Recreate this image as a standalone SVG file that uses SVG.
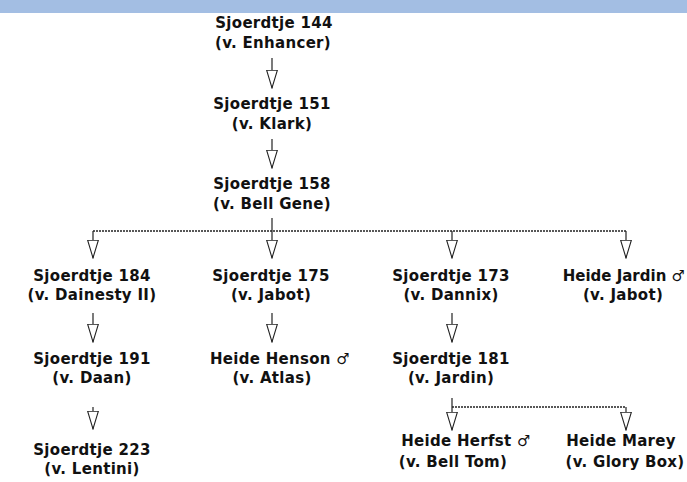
<svg xmlns="http://www.w3.org/2000/svg" width="687" height="482" viewBox="0 0 687 482">
<style>
.t{font-family:"DejaVu Sans","Liberation Sans",sans-serif;font-weight:bold;font-size:15px;letter-spacing:0.3px;text-anchor:middle;fill:#111}
.c{stroke:#222;stroke-width:1.2;fill:none}
.bus{stroke:#222;stroke-width:1.5;fill:none;stroke-dasharray:2 1}
</style>
<defs>
<marker id="ah" markerUnits="userSpaceOnUse" viewBox="0 0 12 19" refX="6" refY="18.5" markerWidth="12" markerHeight="19" orient="0">
<path d="M0.6,0.6 H11.4 L6,18.4 Z" fill="#fff" stroke="#222" stroke-width="1.1"/>
</marker>
</defs>
<rect x="0" y="0" width="687" height="13" fill="#a3bee3"/>
<g id="connectors">
<path class="c" d="M272,58 V88" marker-end="url(#ah)"/>
<path class="c" d="M272,139 V168" marker-end="url(#ah)"/>
<path class="c" d="M272,218 V258" marker-end="url(#ah)"/>
<path class="bus" d="M93,231 H626"/>
<path class="c" d="M93,231 V258" marker-end="url(#ah)"/>
<path class="c" d="M452,231 V258" marker-end="url(#ah)"/>
<path class="c" d="M626,231 V258" marker-end="url(#ah)"/>
<path class="c" d="M93,313 V342" marker-end="url(#ah)"/>
<path class="c" d="M272,313 V342" marker-end="url(#ah)"/>
<path class="c" d="M452,313 V342" marker-end="url(#ah)"/>
<path class="c" d="M93,407 V429" marker-end="url(#ah)"/>
<path class="c" d="M452,398 V430" marker-end="url(#ah)"/>
<path class="bus" d="M452,407 H626"/>
<path class="c" d="M626,407 V430" marker-end="url(#ah)"/>
</g>
<g id="n144"><text class="t" x="274" y="28">Sjoerdtje 144</text><text class="t" x="273" y="48">(v. Enhancer)</text></g>
<g id="n151"><text class="t" x="272" y="109">Sjoerdtje 151</text><text class="t" x="272" y="129">(v. Klark)</text></g>
<g id="n158"><text class="t" x="272" y="189">Sjoerdtje 158</text><text class="t" x="272" y="209">(v. Bell Gene)</text></g>
<g id="n184"><text class="t" x="92" y="281">Sjoerdtje 184</text><text class="t" x="92" y="300">(v. Dainesty II)</text></g>
<g id="n175"><text class="t" x="271" y="281">Sjoerdtje 175</text><text class="t" x="271" y="300">(v. Jabot)</text></g>
<g id="n173"><text class="t" x="451" y="281">Sjoerdtje 173</text><text class="t" x="451" y="300">(v. Dannix)</text></g>
<g id="nJardin"><text class="t" x="685" y="281" style="text-anchor:end;letter-spacing:0">Heide Jardin ♂</text><text class="t" x="623" y="300">(v. Jabot)</text></g>
<g id="n191"><text class="t" x="92" y="364">Sjoerdtje 191</text><text class="t" x="92" y="383">(v. Daan)</text></g>
<g id="nHenson"><text class="t" x="280" y="364">Heide Henson ♂</text><text class="t" x="272" y="383">(v. Atlas)</text></g>
<g id="n181"><text class="t" x="451" y="364">Sjoerdtje 181</text><text class="t" x="451" y="383">(v. Jardin)</text></g>
<g id="n223"><text class="t" x="92" y="455">Sjoerdtje 223</text><text class="t" x="92" y="474">(v. Lentini)</text></g>
<g id="nHerfst"><text class="t" x="466" y="446">Heide Herfst ♂</text><text class="t" x="453" y="467">(v. Bell Tom)</text></g>
<g id="nMarey"><text class="t" x="621" y="446">Heide Marey</text><text class="t" x="625" y="467">(v. Glory Box)</text></g>
</svg>
